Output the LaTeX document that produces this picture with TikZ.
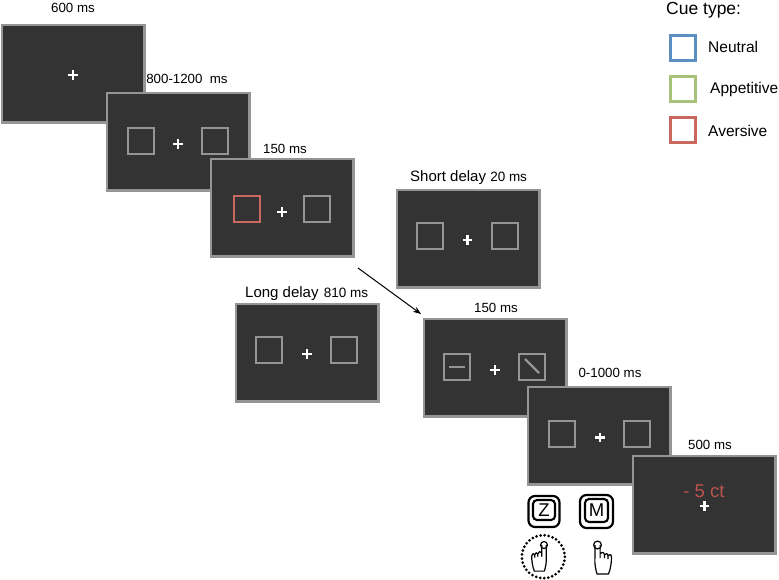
\documentclass[tikz,border=0pt]{standalone}
\usepackage{fontspec}
\setmainfont{Liberation Sans}
\usetikzlibrary{arrows.meta}
\definecolor{scr}{HTML}{333333}
\definecolor{edge}{HTML}{959595}
\definecolor{cueblue}{HTML}{5B8FC4}
\definecolor{cuegreen}{HTML}{A9C27A}
\definecolor{cuered}{HTML}{C9685F}
\definecolor{redtxt}{HTML}{BC5450}
\tikzset{
  screen/.style={draw=edge,line width=2.4pt,fill=scr,minimum width=142.2pt,minimum height=97.2pt,inner sep=0pt,anchor=north west},
  cue/.style={draw=#1,line width=2.2pt,minimum width=26pt,minimum height=26pt,inner sep=0pt},
  cue/.default=edge,
  legendbox/.style={draw=#1,line width=2.2pt,minimum width=25pt,minimum height=25pt,inner sep=0pt,fill=white},
  lab/.style={font=\fontsize{13.3pt}{15pt}\selectfont,text=black,inner sep=0pt},
  biglab/.style={font=\fontsize{15pt}{17pt}\selectfont,text=black,inner sep=0pt},
  leglab/.style={font=\fontsize{15.5pt}{17pt}\selectfont,text=black,inner sep=0pt,anchor=west},
  fix/.pic={\draw[white,line width=2.2pt] (-4.6,0) -- (4.6,0) (0,-4.6) -- (0,4.6);},
  key/.style={draw=black,line width=2.1pt,rounded corners=4pt,inner sep=0pt,font=\fontsize{18.5pt}{20pt}\selectfont},
  keyouter/.style={draw=black,line width=2.2pt,rounded corners=6.5pt,inner sep=0pt},
  finger/.pic={
    \draw[black,line width=1.2pt,fill=white,line join=round]
      (-2.6,0) -- (-2.6,13) .. controls (-3,18) and (-2,24) .. (-0.5,29)
      -- (11,29) .. controls (13,24) and (14,18) .. (14,12)
      .. controls (14,9) and (11,9) .. (10.5,11) -- (10.5,14)
      (10.5,11) .. controls (10.5,8) and (7.5,8) .. (7,10) -- (7,13)
      (7,10) .. controls (7,7) and (3.5,6.5) .. (2.6,8.5) -- (2.6,13)
      (2.6,8.5) -- (2.6,0);
    \draw[black,line width=1.2pt] (0,0) circle (3.9);
  },
}
\begin{document}
\begin{tikzpicture}[x=1pt,y=-1pt]
\useasboundingbox (0,0) rectangle (779,580);
% screens
\node[screen] (s1) at (1,24) {};
\path (73,75) pic {fix};
\node[lab] (t1) at (73,8) {600 ms};
\node[screen] (s2) at (106,92) {};
\node[cue] (s2l) at (141,141) {};
\node[cue] (s2r) at (215,141) {};
\path (178,144) pic {fix};
\node[lab] (t2) at (187,79) {800-1200~ ms};
\node[screen] (s3) at (210,158) {};
\node[cue=cuered] (s3l) at (247,209) {};
\node[cue] (s3r) at (317,209) {};
\path (282,212) pic {fix};
\node[lab] (t3) at (285,149) {150 ms};
\node[screen] (s4) at (396,189) {};
\node[cue] (s4l) at (430,236) {};
\node[cue] (s4r) at (505,236) {};
\path (467.5,240) pic {fix};
\node[biglab,anchor=base west] (t4) at (410,182) {Short delay \fontsize{13.5pt}{15pt}\selectfont 20 ms};
\node[screen] (s5) at (235,303) {};
\node[cue] (s5l) at (269,350) {};
\node[cue] (s5r) at (344,350) {};
\path (307,354) pic {fix};
\node[biglab,anchor=base west] (t5) at (245,297) {Long delay\hspace{1pt} \fontsize{13.5pt}{15pt}\selectfont 810 ms};
\node[screen] (s6) at (423,318) {};
\node[cue] (s6l) at (457,367) {};
\node[cue] (s6r) at (532,367) {};
\draw[edge,line width=2.2pt] (s6l.center) ++(-8,0) -- ++(16,0);
\draw[edge,line width=2.2pt] (s6r.center) ++(-7,-8) -- ++(14,14);
\path (495,370) pic {fix};
\node[lab] (t6) at (496,308) {150 ms};
\node[screen] (s7) at (527,386) {};
\node[cue] (s7l) at (562,434) {};
\node[cue] (s7r) at (637,434) {};
\path (600,437.5) pic {fix};
\node[lab] (t7) at (610,373) {0-1000 ms};
\node[screen] (s8) at (632,455) {};
\path (704.5,506) pic {fix};
\node[font=\fontsize{18.5pt}{20pt}\selectfont,text=redtxt,inner sep=0pt] (fb) at (704,491) {- 5 ct};
\node[lab] (t8) at (710,445) {500 ms};
% arrow
\coordinate (a1) at (358,268);
\coordinate (a2) at (421,314);
\draw[-{Stealth[length=8pt,width=6pt]},black,line width=1pt] (a1) -- (a2);
% legend
\node[biglab,anchor=west,font=\fontsize{17.5pt}{19pt}\selectfont] (cuet) at (666,10) {Cue type:};
\node[legendbox=cueblue] (lb) at (683,48) {};
\node[leglab] (lbt) at (708,46.5) {Neutral};
\node[legendbox=cuegreen] (lg) at (683,89) {};
\node[leglab] (lgt) at (710,89) {Appetitive};
\node[legendbox=cuered] (lr) at (683,130) {};
\node[leglab] (lrt) at (708,130.5) {Aversive};
% keys
\node[keyouter,minimum width=31pt,minimum height=31pt] (kz) at (544,511.5) {};
\node[key,minimum width=22pt,minimum height=20pt] (kzi) at (544,510) {Z};
\node[keyouter,minimum width=33pt,minimum height=33pt] (km) at (596.5,511.5) {};
\node[key,minimum width=23pt,minimum height=23pt] (kmi) at (596.5,510.5) {M};
\draw[black,line width=3pt,dash pattern=on 0pt off 4.1pt,line cap=round] (543.3,556.7) circle (21.5);
\path (544,545) pic[xscale=-0.88,yscale=0.9] {finger};
\path (597.5,545) pic {finger};
\end{tikzpicture}
\end{document}
